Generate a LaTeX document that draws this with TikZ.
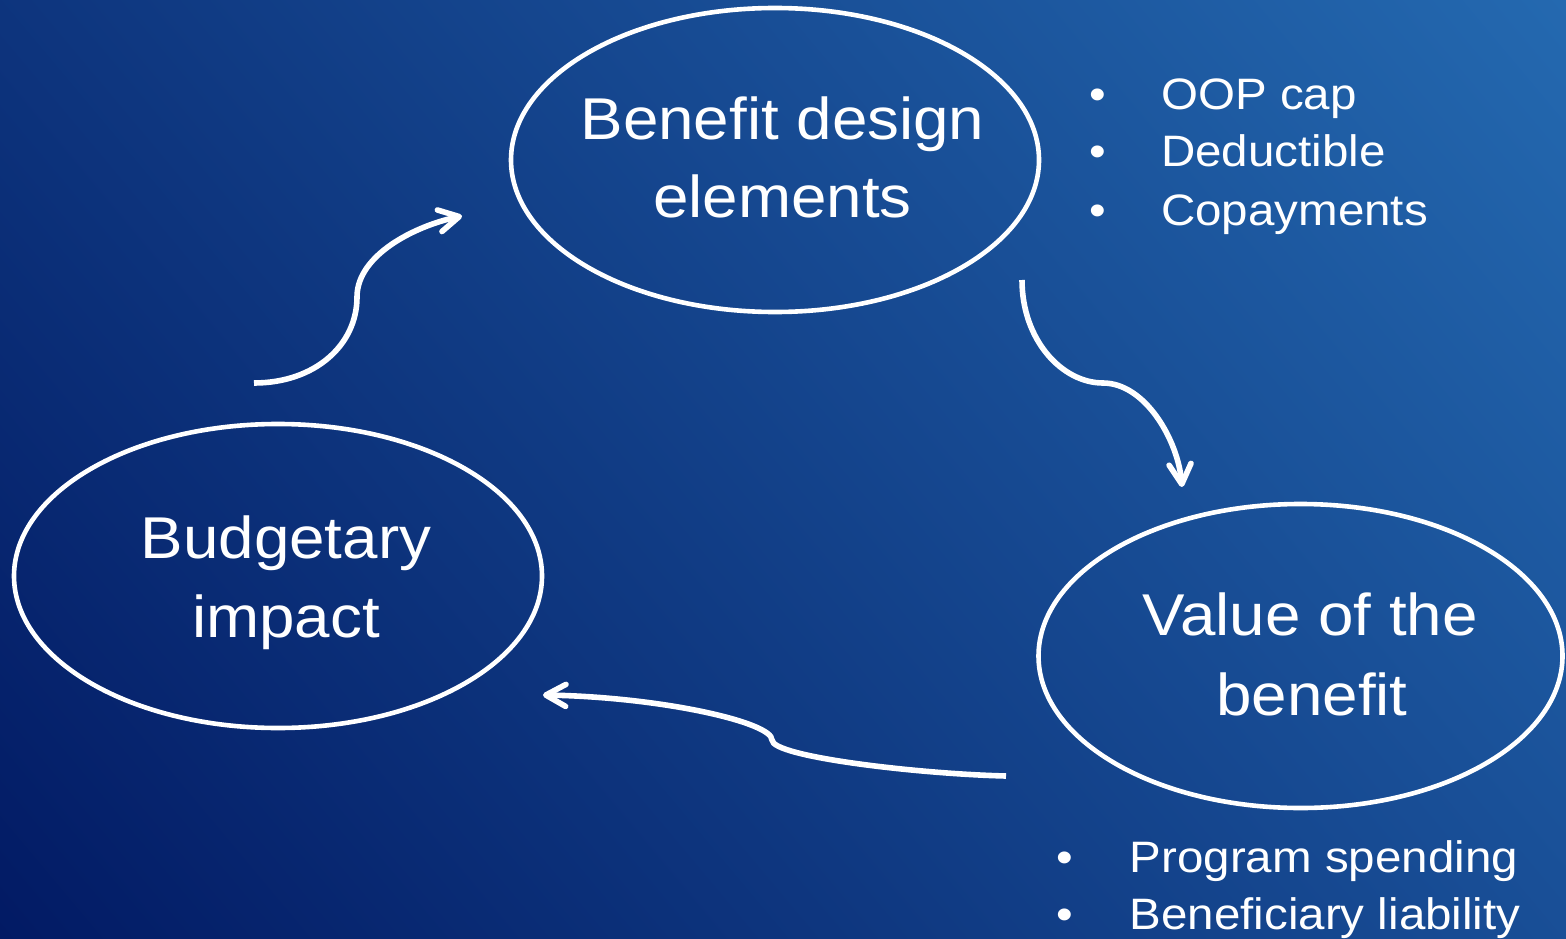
\documentclass[tikz,border=0pt]{standalone}
\usepackage{fontspec}
\setmainfont{Liberation Sans}
\newfontfamily\lsans[FakeStretch=1.08]{Liberation Sans}
\usetikzlibrary{shapes.geometric,arrows.meta}
\definecolor{bgdark}{HTML}{021A64}
\definecolor{bglight}{HTML}{2469B0}
\begin{document}
\begin{tikzpicture}[x=1pt,y=-1pt,
  oval/.style={ellipse, draw=white, line width=4.6pt, inner sep=0pt},
  bigtxt/.style={text=white, inner sep=0pt, anchor=base, font=\lsans\fontsize{59pt}{70pt}\selectfont},
  smalltxt/.style={text=white, inner sep=0pt, anchor=base west, font=\lsans\fontsize{44pt}{52pt}\selectfont},
  dotmark/.style={text=white, inner sep=0pt, anchor=base, font=\lsans\fontsize{44pt}{52pt}\selectfont},
  flow/.style={draw=white, line width=5.6pt, -{Straight Barb[length=20pt,width=22pt,round]}}]
\useasboundingbox (0,0) rectangle (1566,939);
\begin{scope}
\clip (0,0) rectangle (1566,939);
\begin{scope}[transform canvas={rotate around={40:(783,469.5)}}]
\shade[left color=bgdark,right color=bglight] (-119,-443.5) rectangle (1685,1382.5);
\end{scope}
\end{scope}

% ellipses
\node[oval, minimum width=528pt, minimum height=304pt] (bde) at (775,160) {};
\node[oval, minimum width=528pt, minimum height=304pt] (bud) at (278,576) {};
\node[oval, minimum width=524pt, minimum height=304pt] (val) at (1300.5,656) {};

% main labels
\node[bigtxt] (bdeA) at (782.5,140) {Benefit design};
\node[bigtxt] (bdeB) at (782.5,217) {elements};
\node[bigtxt] (budA) at (286,558) {Budgetary};
\node[bigtxt] (budB) at (286,637) {impact};
\node[bigtxt] (valA) at (1310,635) {Value of the};
\node[bigtxt] (valB) at (1312,715) {benefit};

% bullet lists
\node[dotmark] (d1) at (1098,110) {•};
\node[smalltxt] (t1) at (1161,110) {OOP cap};
\node[dotmark] (d2) at (1098,167) {•};
\node[smalltxt] (t2) at (1161,167) {Deductible};
\node[dotmark] (d3) at (1098,225) {•};
\node[smalltxt] (t3) at (1161,225) {Copayments};
\node[dotmark] (d4) at (1065,872) {•};
\node[smalltxt] (t4) at (1129.5,872) {Program spending};
\node[dotmark] (d5) at (1065,929) {•};
\node[smalltxt] (t5) at (1129.5,929) {Beneficiary liability};

% arrows
\coordinate (a1s) at (254,383);
\coordinate (a1e) at (462,216);
\draw[flow] (a1s) .. controls (315,383) and (357,345) .. (357,297) .. controls (357,255) and (415,226) .. (a1e);
\coordinate (a2s) at (1022,280);
\coordinate (a2e) at (1182,487);
\draw[flow] (a2s) .. controls (1022,340) and (1062,383) .. (1103,383) .. controls (1145,383) and (1178,440) .. (a2e);
\coordinate (a3s) at (1006,776);
\coordinate (a3e) at (543,695);
\draw[flow] (a3s) .. controls (920,774) and (772,757) .. (772,740) .. controls (772,722) and (660,697) .. (a3e);
\end{tikzpicture}
\end{document}
